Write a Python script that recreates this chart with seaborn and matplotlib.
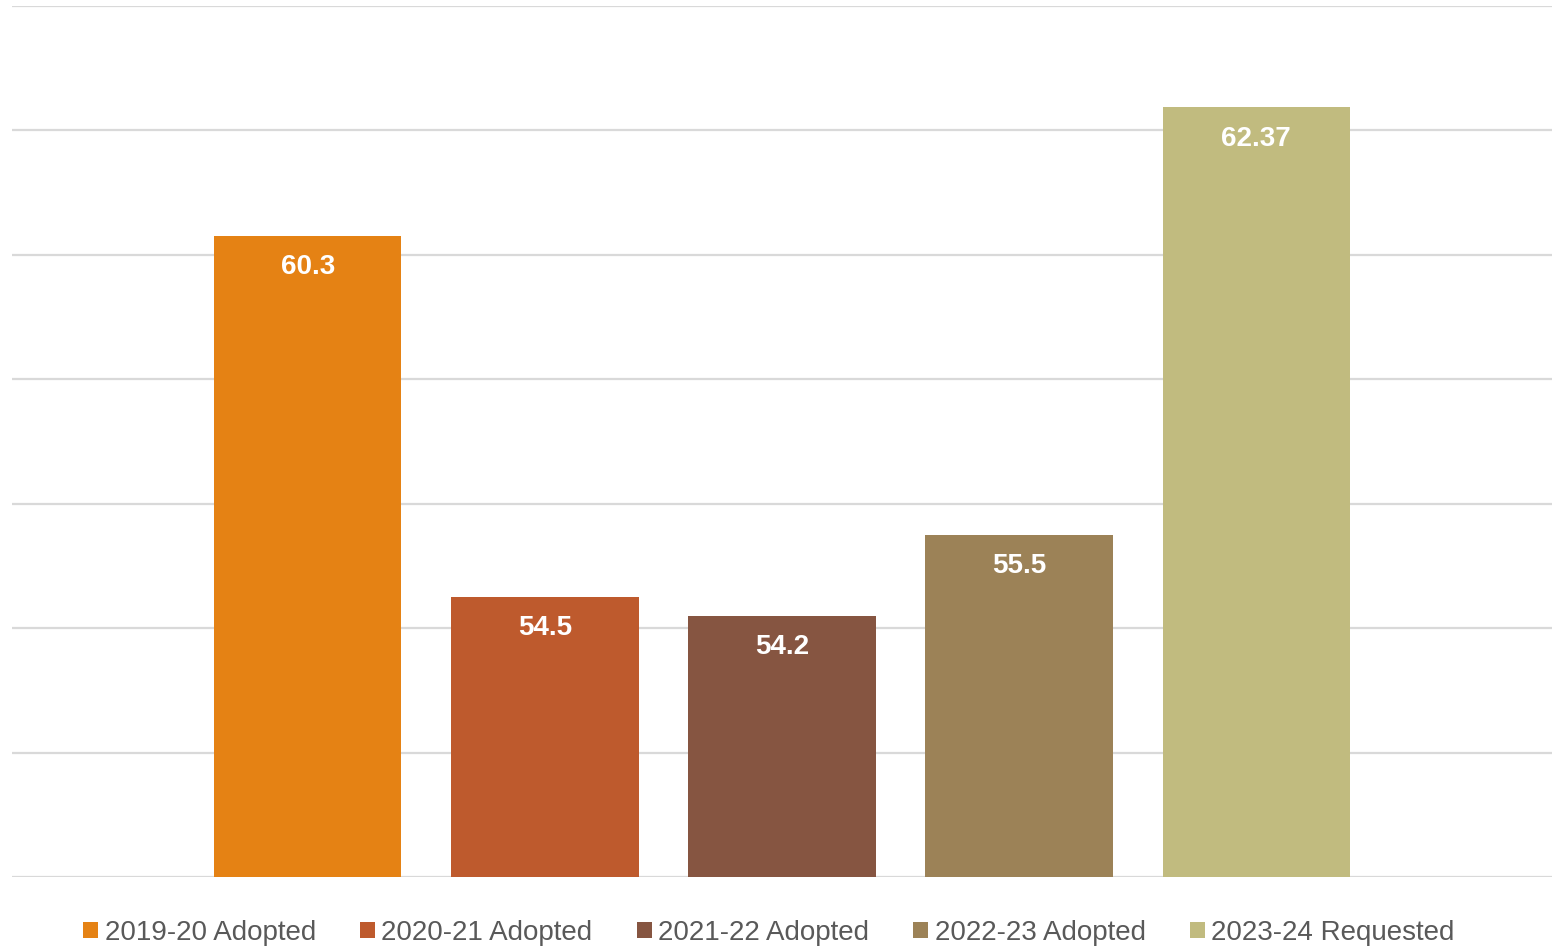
import numpy as np
import pandas as pd
import matplotlib
matplotlib.use("Agg")
import matplotlib.pyplot as plt
import seaborn as sns

# Datos
series = ["2019-20 Adopted", "2020-21 Adopted", "2021-22 Adopted",
          "2022-23 Adopted", "2023-24 Requested"]
values = [60.3, 54.5, 54.2, 55.5, 62.37]
labels = ["60.3", "54.5", "54.2", "55.5", "62.37"]
colors = ["#E58214", "#BE5A2D", "#865541", "#9C8257", "#C1BB7F"]
yticks = [50, 52, 54, 56, 58, 60, 62, 64]

df = pd.DataFrame({"group": ["Budget"] * len(series), "series": series, "value": values})

sns.set_style("white")
plt.rcParams["font.family"] = ["Liberation Sans", "DejaVu Sans"]

fig = plt.figure(figsize=(15.52, 9.46), dpi=100)
ax = fig.add_axes([12 / 1552, 1 - 877 / 946, 1 - 12 / 1552, (877 - 6) / 946])

sns.barplot(data=df, x="group", y="value", hue="series", hue_order=series,
            palette=colors, width=0.77, gap=0.21, saturation=1, ax=ax,
            linewidth=0, legend=True)

ax.set_xlim(-0.5, 0.5)
ax.set_ylim(yticks[0], yticks[-1])
ax.set_yticks(yticks)
ax.set_yticklabels([])
ax.set_xticks([])
ax.set_xlabel("")
ax.set_ylabel("")
ax.tick_params(length=0)
ax.yaxis.grid(True, color="#d9d9d9", linewidth=1.6)
ax.set_axisbelow(True)
for s in ax.spines.values():
    s.set_visible(False)

# etiquetas de valores dentro de las barras
for patch, lab in zip(ax.patches, labels):
    xc = patch.get_x() + patch.get_width() / 2
    top = patch.get_y() + patch.get_height()
    ax.annotate(lab, (xc, top), xytext=(0, -22.5), textcoords="offset points",
                ha="center", va="center", color="white", fontsize=20,
                fontweight="bold")

handles, leg_labels = ax.get_legend_handles_labels()
ax.get_legend().remove()
fig.legend(handles, leg_labels, loc="center", ncol=5,
           bbox_to_anchor=(769 / 1552, 13 / 946), frameon=False,
           fontsize=20, labelcolor="#595959", handlelength=0.54,
           handleheight=0.54, handletextpad=0.22, columnspacing=1.6)

fig.savefig("out.png", dpi=100)
plt.close()
